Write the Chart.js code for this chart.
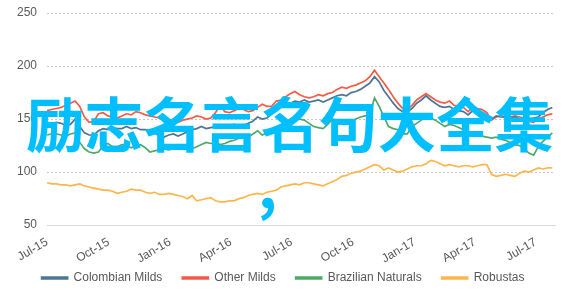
<!DOCTYPE html>
<html>
<head>
<meta charset="utf-8">
<script src="https://cdn.jsdelivr.net/npm/chart.js@4"></script>
<style>
  html, body { margin: 0; padding: 0; background: #fff; }
  #wrap { position: relative; width: 575px; height: 293px; }
</style>
</head>
<body>
<div id="wrap"><canvas id="chart"></canvas></div>
<script>
// weekly prices, US cents/lb, first week Jul-2015
const weekStart = '2015-07-01';
const quarterLabels = ['Jul-15', 'Oct-15', 'Jan-16', 'Apr-16', 'Jul-16', 'Oct-16', 'Jan-17', 'Apr-17', 'Jul-17'];
const quarterDays = [0, 92, 184, 275, 366, 458, 550, 640, 731];

const colombianMilds = [
  147, 146, 147, 146, 144, 145, 150, 143, 137, 135,
  135, 139, 141, 140, 142, 141, 141, 143, 141, 142,
  140, 140, 139, 137, 134, 133, 135, 136, 134, 136,
  138, 140, 141, 143, 141, 142, 143, 144, 142, 144,
  145, 143, 144, 146, 148, 152, 150, 151, 155, 160,
  161, 163, 165, 167, 166, 168, 166, 167, 168, 166,
  168, 170, 172, 173, 172, 175, 176, 178, 181, 184,
  190, 185, 177, 171, 165, 160, 157, 157, 160, 165,
  168, 172, 168, 165, 162, 161, 162, 159, 158, 157,
  154, 158, 156, 154, 152, 150, 153, 152, 153, 151,
  152, 150, 149, 150, 151, 152, 156, 159, 161
];
const otherMilds = [
  158, 159, 160, 161, 163, 165, 167, 162, 152, 147,
  148, 155, 156, 153, 152, 151, 153, 155, 154, 157,
  156, 154, 153, 152, 151, 149, 150, 148, 147, 149,
  150, 151, 153, 152, 150, 151, 156, 163, 157, 156,
  158, 160, 159, 157, 158, 161, 164, 162, 162, 167,
  168, 171, 174, 176, 173, 171, 170, 171, 173, 172,
  174, 175, 178, 180, 179, 181, 182, 184, 186, 190,
  196, 190, 184, 178, 171, 165, 160, 159, 163, 168,
  171, 174, 171, 168, 166, 165, 167, 163, 162, 161,
  157, 161, 160, 159, 156, 149, 152, 153, 151, 152,
  153, 152, 151, 148, 147, 150, 152, 154, 155
];
const brazilianNaturals = [
  135, 136, 136, 135, 134, 136, 137, 128, 122, 119,
  118, 119, 125, 127, 124, 124, 126, 125, 123, 125,
  126, 123, 119, 120, 121, 122, 121, 122, 123, 124,
  121, 122, 124, 126, 128, 127, 128, 126, 127, 129,
  130, 132, 134, 133, 136, 139, 135, 137, 138, 141,
  144, 147, 149, 152, 150, 149, 146, 143, 142, 141,
  145, 150, 149, 148, 146, 147, 150, 152, 153, 155,
  170, 162, 152, 143, 141, 140, 136, 136, 143, 146,
  149, 153, 151, 149, 146, 143, 145, 144, 142, 140,
  138, 135, 136, 134, 133, 132, 133, 131, 130, 128,
  126, 125, 122, 118, 116, 124, 129, 133, 137
];
const robustas = [
  90, 89, 89, 88, 88, 87, 88, 89, 87, 86,
  85, 84, 83, 83, 82, 80, 81, 82, 84, 83,
  83, 81, 80, 81, 79, 79, 80, 79, 78, 77,
  75, 78, 73, 74, 75, 76, 73, 72, 72, 73,
  73, 75, 76, 78, 79, 80, 79, 81, 82, 83,
  86, 87, 88, 89, 88, 90, 90, 89, 88, 87,
  89, 91, 93, 96, 97, 99, 100, 101, 103, 105,
  107, 106, 102, 104, 102, 100, 101, 103, 105, 106,
  106, 108, 111, 110, 108, 106, 107, 106, 105, 106,
  106, 105, 106, 107, 107, 98, 96, 97, 98, 97,
  96, 99, 101, 100, 102, 104, 103, 104, 104
];

const overlayText = '励志名言名句大全集';
const overlayComma = ',';

// x is days since weekStart (one point per week)
const toPoints = arr => arr.map((v, i) => ({ x: i * 7, y: v }));

const overlayPlugin = {
  id: 'overlay',
  afterLayout(chart) {
    // legend sits a little into the space under the rotated labels
    const lg = chart.legend;
    lg.left += 2;
    lg.right += 2;
    lg.top = 252;
    lg.bottom = 292;
    lg.height = 40;
  },
  afterDraw(chart) {
    const c = chart.ctx;
    c.save();
    c.fillStyle = '#00bfff';
    c.textBaseline = 'alphabetic';
    c.font = 'bold 58.6px "Noto Sans CJK SC"';
    c.fillText(overlayText, 26, 147);
    c.fillText(overlayComma, 258, 208);
    c.restore();
  }
};

const ctx = document.getElementById('chart').getContext('2d');
Chart.defaults.font.family = '"Liberation Sans", Arial, sans-serif';
Chart.defaults.font.size = 12;
Chart.defaults.color = '#595959';

new Chart(ctx, {
  type: 'line',
  data: {
    datasets: [
      { label: 'Colombian Milds', data: toPoints(colombianMilds), borderColor: '#4e7594', backgroundColor: '#4e7594' },
      { label: 'Other Milds', data: toPoints(otherMilds), borderColor: '#f45b45', backgroundColor: '#f45b45' },
      { label: 'Brazilian Naturals', data: toPoints(brazilianNaturals), borderColor: '#4fa96a', backgroundColor: '#4fa96a' },
      { label: 'Robustas', data: toPoints(robustas), borderColor: '#fdb64c', backgroundColor: '#fdb64c' }
    ]
  },
  options: {
    responsive: true,
    maintainAspectRatio: false,
    animation: false,
    layout: { padding: { left: 7, right: 20, top: 13, bottom: 0 } },
    elements: {
      point: { radius: 0 },
      line: { borderWidth: 1.7, tension: 0 }
    },
    plugins: {
      tooltip: { enabled: false },
      legend: {
        position: 'bottom',
        maxHeight: 17,
        labels: { boxWidth: 26, boxHeight: 2, padding: 20, color: '#595959' }
      }
    },
    scales: {
      x: {
        type: 'linear',
        min: 0,
        max: 760,
        afterBuildTicks: scale => { scale.ticks = quarterDays.map(v => ({ value: v })); },
        ticks: {
          autoSkip: false,
          minRotation: 30,
          maxRotation: 30,
          padding: 10,
          callback: v => quarterLabels[quarterDays.indexOf(v)]
        },
        grid: { display: false, drawTicks: false },
        border: { display: true, color: '#d9d9d9', width: 1 }
      },
      y: {
        min: 50,
        max: 250,
        afterFit: scale => { scale.paddingTop = 0; },
        ticks: { stepSize: 50, padding: 10 },
        grid: { color: '#c8c8c8', drawTicks: false },
        border: { display: false, dash: [2, 2] }
      }
    }
  },
  plugins: [overlayPlugin]
});
</script>
</body>
</html>
